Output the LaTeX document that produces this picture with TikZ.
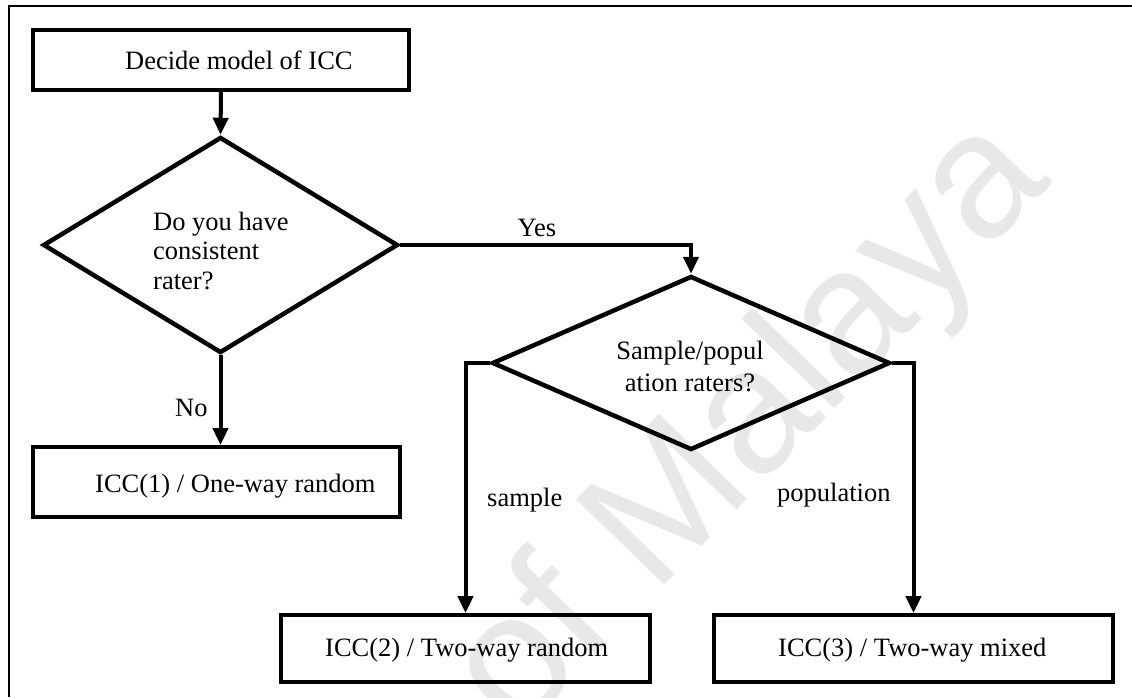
\documentclass[tikz,border=0pt]{standalone}
\usepackage{fontspec}
\setmainfont{Liberation Serif}
\newfontfamily\wmfont{Liberation Sans}
\usetikzlibrary{shapes.geometric,arrows.meta}
\begin{document}
\begin{tikzpicture}[x=1pt,y=-1pt,
  box/.style={draw=black, rectangle, line width=3.8pt, inner sep=0pt},
  decision/.style={draw=black, diamond, line width=4.5pt, inner sep=0pt, line join=miter},
  lbl/.style={inner sep=0pt, font=\fontsize{26.5}{30}\selectfont},
  arr/.style={draw=black, line width=4pt, line join=miter,
    -{Triangle[width=15pt,length=17pt]}},
  frame/.style={draw=black, line width=2.5pt}]
\useasboundingbox (0,0) rectangle (1132,697);

% faint watermark behind the chart
\begin{scope}
\clip (0,0) rectangle (1132,697);
\node[rotate=46, inner sep=0pt, text=black!9,
  font=\wmfont\fontsize{178}{178}\selectfont] (wm) at (752,428) {of Malaya};
\end{scope}

% open frame: top and left edges
\draw[frame] (1132,6) -- (9,6) -- (9,697);

% boxes and decisions
\node[box, minimum width=376pt, minimum height=60pt] (start) at (221,60) {};
\node[decision, minimum width=355pt, minimum height=216pt] (q1) at (220.5,245) {};
\node[box, minimum width=367pt, minimum height=70pt] (oneway) at (216.5,482) {};
\node[decision, minimum width=398pt, minimum height=174pt] (q2) at (691,363) {};
\node[box, minimum width=369pt, minimum height=67pt] (tworand) at (465.5,648.5) {};
\node[box, minimum width=399pt, minimum height=67pt] (twomix) at (913.5,648.5) {};

% texts
\node[lbl, anchor=base west] (tstart) at (125,69) {Decide model of ICC};
\node[lbl, anchor=base west] (tq1a) at (153,230) {Do you have};
\node[lbl, anchor=base west] (tq1b) at (153,259) {consistent};
\node[lbl, anchor=base west] (tq1c) at (153,289) {rater?};
\node[lbl, anchor=base west] (toneway) at (95,492) {ICC(1) / One-way random};
\node[lbl, anchor=base] (tq2a) at (690,359) {Sample/popul};
\node[lbl, anchor=base] (tq2b) at (690,391) {ation raters?};
\node[lbl, anchor=base west] (ttworand) at (325,656) {ICC(2) / Two-way random};
\node[lbl, anchor=base west] (ttwomix) at (778,656) {ICC(3) / Two-way mixed};

% connector labels
\node[lbl, anchor=base] (lyes) at (537,236) {Yes};
\node[lbl, anchor=base west] (lno) at (175,416) {No};
\node[lbl, anchor=base west] (lsample) at (487,506) {sample};
\node[lbl, anchor=base west] (lpop) at (777,501) {population};

% connectors
\draw[arr] (start.south) -- (q1.north);
\draw[arr] (q1.south) -- (q1.south |- oneway.north);
\draw[arr] (q1.east) -| (q2.north);
\draw[arr] (q2.west) -| (tworand.north);
\draw[arr] (q2.east) -| (twomix.north);
\end{tikzpicture}
\end{document}
